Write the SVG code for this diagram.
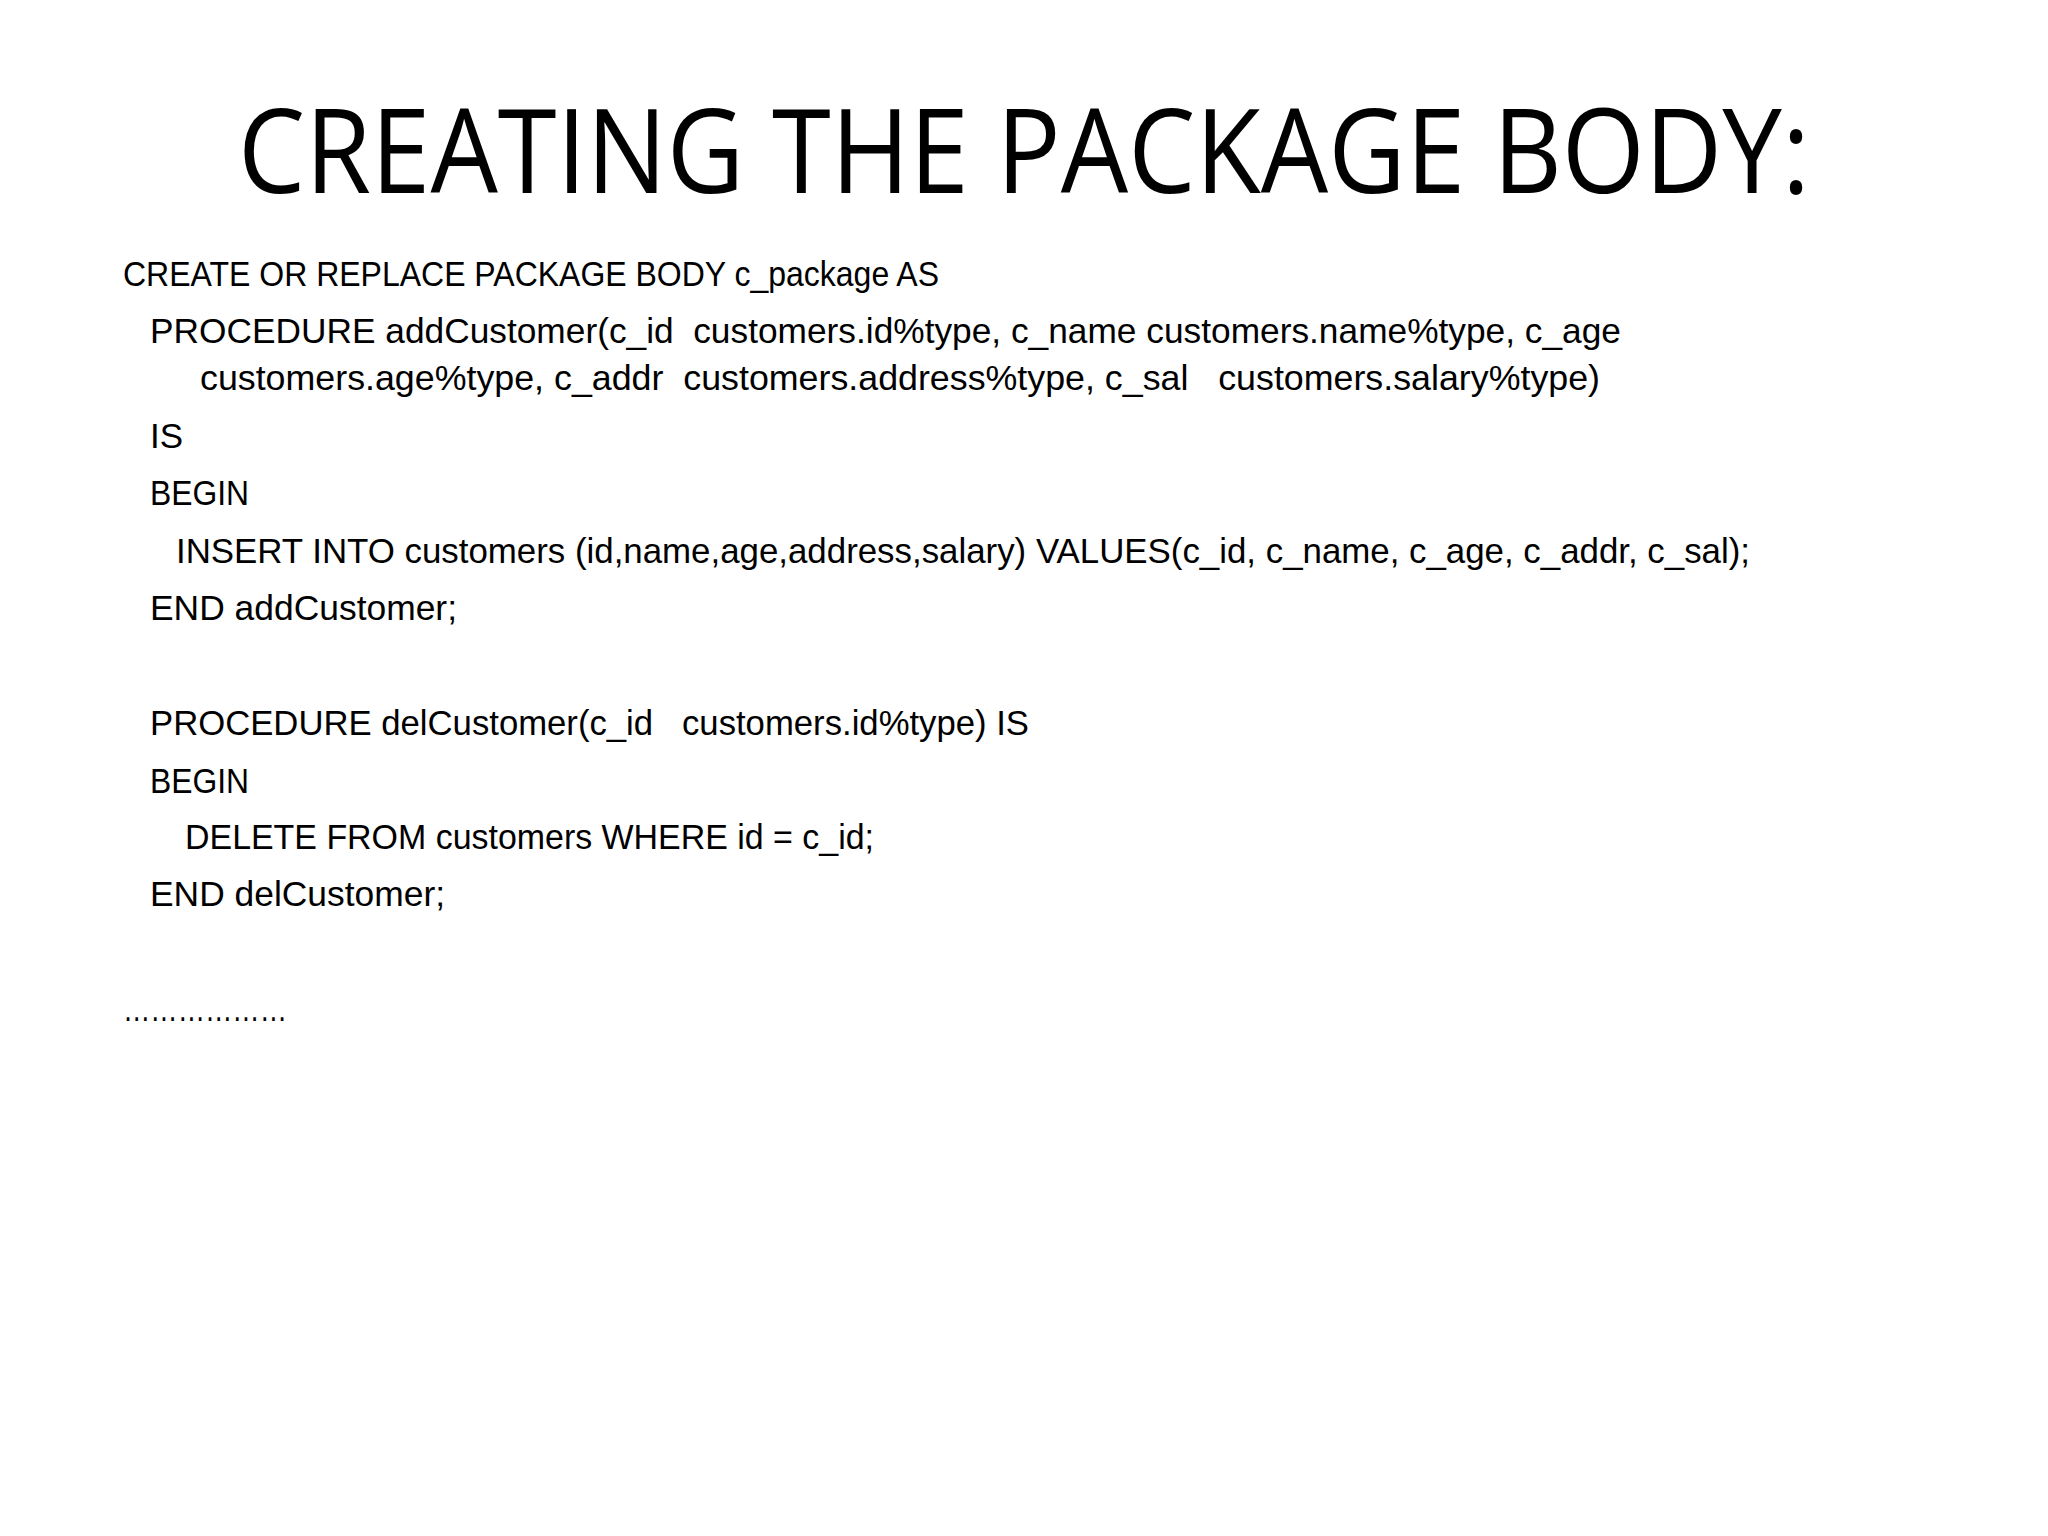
<svg xmlns="http://www.w3.org/2000/svg" width="2048" height="1536" viewBox="0 0 2048 1536">
<style>
.t{font-family:"Liberation Sans","Open Sans",sans-serif;fill:#000}
.h{font-family:"Open Sans","Liberation Sans",sans-serif;fill:#000}
.c{font-size:35px}
</style>
<rect width="2048" height="1536" fill="#fff"/>
<g id="title"><text class="h" x="238" y="193" font-size="118" textLength="1572" lengthAdjust="spacingAndGlyphs">CREATING THE PACKAGE BODY:</text></g>
<g id="code" class="t c">
<text x="123" y="286" textLength="816" lengthAdjust="spacingAndGlyphs">CREATE OR REPLACE PACKAGE BODY c_package AS</text>
<text x="150" y="343" textLength="1471" lengthAdjust="spacingAndGlyphs" xml:space="preserve">PROCEDURE addCustomer(c_id  customers.id%type, c_name customers.name%type, c_age</text>
<text x="200" y="390" textLength="1400" lengthAdjust="spacingAndGlyphs" xml:space="preserve">customers.age%type, c_addr  customers.address%type, c_sal   customers.salary%type)</text>
<text x="150" y="448">IS</text>
<text x="150" y="505" textLength="99" lengthAdjust="spacingAndGlyphs">BEGIN</text>
<text x="176" y="563" textLength="1574" lengthAdjust="spacingAndGlyphs">INSERT INTO customers (id,name,age,address,salary) VALUES(c_id, c_name, c_age, c_addr, c_sal);</text>
<text x="150" y="620" textLength="307" lengthAdjust="spacingAndGlyphs">END addCustomer;</text>
<text x="150" y="735" textLength="879" lengthAdjust="spacingAndGlyphs" xml:space="preserve">PROCEDURE delCustomer(c_id   customers.id%type) IS</text>
<text x="150" y="793" textLength="99" lengthAdjust="spacingAndGlyphs">BEGIN</text>
<text x="185" y="849" textLength="689" lengthAdjust="spacingAndGlyphs">DELETE FROM customers WHERE id = c_id;</text>
<text x="150" y="906" textLength="295" lengthAdjust="spacingAndGlyphs">END delCustomer;</text>
<text x="123" y="1021" textLength="164" lengthAdjust="spacingAndGlyphs">………………</text>
</g>
</svg>
